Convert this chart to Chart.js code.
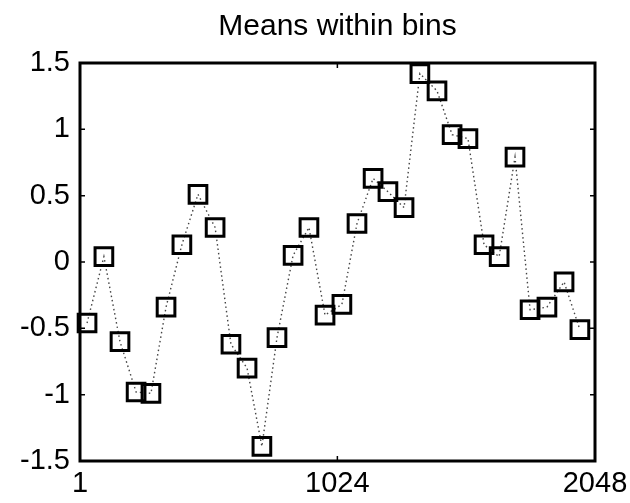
<!DOCTYPE html>
<html>
<head>
<meta charset="utf-8">
<script src="https://cdn.jsdelivr.net/npm/chart.js@4"></script>
<style>
  body { margin: 0; background: #fff; }
  #wrap { width: 630px; height: 503px; }
</style>
</head>
<body>
<div id="wrap"><canvas id="chart"></canvas></div>
<script>
// bin centres (sample index) and the mean inside each bin
const binCenters = [29, 96, 160, 224, 283, 343, 406, 470, 538, 601, 665, 724, 784, 848, 911, 975,
                    1042, 1102, 1166, 1225, 1289, 1352, 1420, 1480, 1543, 1607, 1667, 1730, 1790, 1857, 1925, 1988];
const binMeans = [-0.46, 0.04, -0.60, -0.98, -0.99, -0.34, 0.13, 0.51, 0.26, -0.62, -0.80, -1.39, -0.57, 0.05, 0.26, -0.40,
                  -0.32, 0.29, 0.63, 0.53, 0.41, 1.42, 1.29, 0.96, 0.93, 0.13, 0.04, 0.79, -0.36, -0.34, -0.15, -0.51];
const xTicks = [1, 1024, 2048];
const yTicks = [-1.5, -1, -0.5, 0, 0.5, 1, 1.5];
const chartTitle = 'Means within bins';

const tickFont = { family: "'Liberation Sans', Arial, sans-serif", size: 29 };

// box round the plot with short inward ticks, like matlab, and the title over the plot
const boxPlugin = {
    id: 'box',
    afterDraw(chart) {
        const ctx = chart.ctx;
        const a = chart.chartArea;
        const xs = chart.scales.x, ys = chart.scales.y;
        ctx.save();
        ctx.strokeStyle = '#000';
        ctx.lineWidth = 1.5;
        ctx.beginPath();
        yTicks.forEach(v => {
            const py = ys.getPixelForValue(v);
            ctx.moveTo(a.left, py); ctx.lineTo(a.left + 5, py);
            ctx.moveTo(a.right, py); ctx.lineTo(a.right - 5, py);
        });
        xTicks.forEach(v => {
            const px = xs.getPixelForValue(v);
            ctx.moveTo(px, a.bottom); ctx.lineTo(px, a.bottom - 5);
            ctx.moveTo(px, a.top); ctx.lineTo(px, a.top + 5);
        });
        ctx.stroke();
        ctx.lineWidth = 3;
        ctx.strokeRect(a.left, a.top, a.right - a.left, a.bottom - a.top);

        ctx.fillStyle = '#000';
        ctx.font = "30px 'Liberation Sans', Arial, sans-serif";
        ctx.textAlign = 'center';
        ctx.textBaseline = 'middle';
        ctx.fillText(chartTitle, (a.left + a.right) / 2, 27);
        ctx.restore();
    }
};

new Chart(document.getElementById('chart'), {
    type: 'line',
    data: {
        datasets: [{
            label: 'means',
            data: binCenters.map((x, i) => ({ x: x, y: binMeans[i] })),
            borderColor: '#444',
            borderWidth: 1.4,
            borderDash: [1.5, 3],
            fill: false,
            tension: 0,
            pointStyle: 'rect',
            pointRadius: 12.5,
            pointBorderWidth: 3,
            pointBorderColor: '#000',
            pointBackgroundColor: 'rgba(0,0,0,0)',
            clip: false,
        }]
    },
    options: {
        responsive: true,
        maintainAspectRatio: false,
        animation: false,
        layout: { padding: { top: 63, right: 35, bottom: 0, left: 0 } },
        plugins: {
            legend: { display: false },
            tooltip: { enabled: false },
        },
        scales: {
            x: {
                type: 'linear',
                min: 1,
                max: 2048,
                afterBuildTicks: s => { s.ticks = xTicks.map(v => ({ value: v })); },
                afterFit: s => { s.height = 42; s.paddingRight = 0; },
                grid: { display: false, drawTicks: false },
                border: { display: false },
                ticks: { color: '#000', font: tickFont, padding: 6, maxRotation: 0, autoSkip: false,
                         callback: v => String(v) },
            },
            y: {
                min: -1.5,
                max: 1.5,
                afterBuildTicks: s => { s.ticks = yTicks.map(v => ({ value: v })); },
                afterFit: s => { s.width = 80; },
                grid: { display: false, drawTicks: false },
                border: { display: false },
                ticks: { color: '#000', font: tickFont, padding: 10, callback: v => String(v) },
            }
        }
    },
    plugins: [boxPlugin]
});
</script>
</body>
</html>
